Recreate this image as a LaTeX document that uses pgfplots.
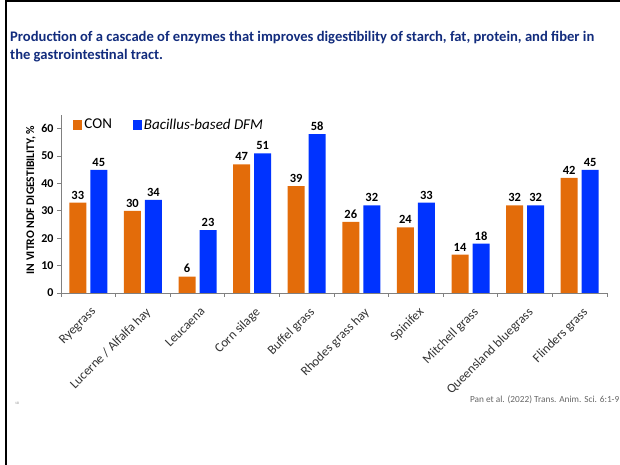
\documentclass[border=0pt]{standalone}
\usepackage{pgfplots}
\pgfplotsset{compat=1.18}
\usepackage{fontspec}
\setmainfont{Carlito}
\definecolor{conor}{RGB}{227,108,10}
\definecolor{dfmblue}{RGB}{0,51,255}
\definecolor{titleblue}{RGB}{18,44,125}
\begin{document}
\begin{tikzpicture}[x=1bp,y=1bp]
\path[use as bounding box] (0,0) rectangle (620,465);
\draw[line width=2.2bp] (6,0) -- (6,465);
\draw[line width=2bp] (5,464) -- (620,464);
\node[anchor=base west, font=\fontsize{14.6bp}{16bp}\selectfont\bfseries, text=titleblue, inner sep=0] at (10,423) {Production of a cascade of enzymes that improves digestibility of starch, fat, protein, and fiber in};
\node[anchor=base west, font=\fontsize{14.6bp}{16bp}\selectfont\bfseries, text=titleblue, inner sep=0] at (10,405) {the gastrointestinal tract.};
\node[rotate=90, font=\bfseries\fontsize{11.6bp}{13bp}\selectfont] at (31,265) {IN VITRO NDF DIGESTIBILITY, \%};
\node[anchor=base east, font=\fontsize{9.3bp}{11bp}\selectfont, text=black!60, inner sep=0] at (619.5,62) {Pan et al. (2022) Trans. Anim. Sci. 6:1-9};
\node[font=\fontsize{3.5bp}{4bp}\selectfont, text=black!50, inner sep=0] at (17,62) {18};
\begin{axis}[
  at={(61bp,172bp)}, anchor=south west, scale only axis,
  width=546bp, height=178bp,
  xmin=-0.5, xmax=9.5, ymin=0, ymax=65,
  ybar=4bp, bar width=17bp,
  axis x line=bottom, axis y line=left,
  axis line style={-, draw=black!50, line width=0.8bp},
  tick align=outside,
  ytick={0,10,...,60},
  major tick length=4bp, minor tick length=4bp,
  tick style={draw=black!50, line width=0.8bp},
  xtick={0,...,9},
  major x tick style={draw=none},
  minor xtick={-0.5,0.5,...,9.5},
  xticklabels={Ryegrass, Lucerne / Alfalfa hay, Leucaena, Corn silage, Buffel grass, Rhodes grass hay, Spinifex, Mitchell grass, Queensland bluegrass, Flinders grass},
  xticklabel style={rotate=45, anchor=north east, font=\fontsize{13bp}{15bp}\selectfont, text=black!80, inner sep=1bp, xshift=-4bp, yshift=-7bp},
  /pgf/number format/assume math mode=true,
  yticklabel style={font=\bfseries\fontsize{12bp}{13bp}\selectfont, text=black},
  nodes near coords,
  nodes near coords style={font=\bfseries\fontsize{12.5bp}{13bp}\selectfont, text=black, yshift=0bp},
  legend style={at={(0.0225,0.945)}, anchor=west, draw=none, fill=none, inner sep=0pt,
    font=\fontsize{15bp}{17bp}\selectfont, legend columns=2,
    /tikz/every even column/.append style={column sep=19bp}},
]
\addplot[fill=conor, draw=none, legend image code/.code={\fill[conor] (0bp,-5bp) rectangle (9bp,5bp);}] coordinates {(0,33) (1,30) (2,6) (3,47) (4,39) (5,26) (6,24) (7,14) (8,32) (9,42)};
\addlegendentry{CON}
\addplot[fill=dfmblue, draw=none, legend image code/.code={\fill[dfmblue] (0bp,-5bp) rectangle (9bp,5bp);}] coordinates {(0,45) (1,34) (2,23) (3,51) (4,58) (5,32) (6,33) (7,18) (8,32) (9,45)};
\addlegendentry{\textit{Bacillus-based DFM}}
\end{axis}
\end{tikzpicture}
\end{document}
